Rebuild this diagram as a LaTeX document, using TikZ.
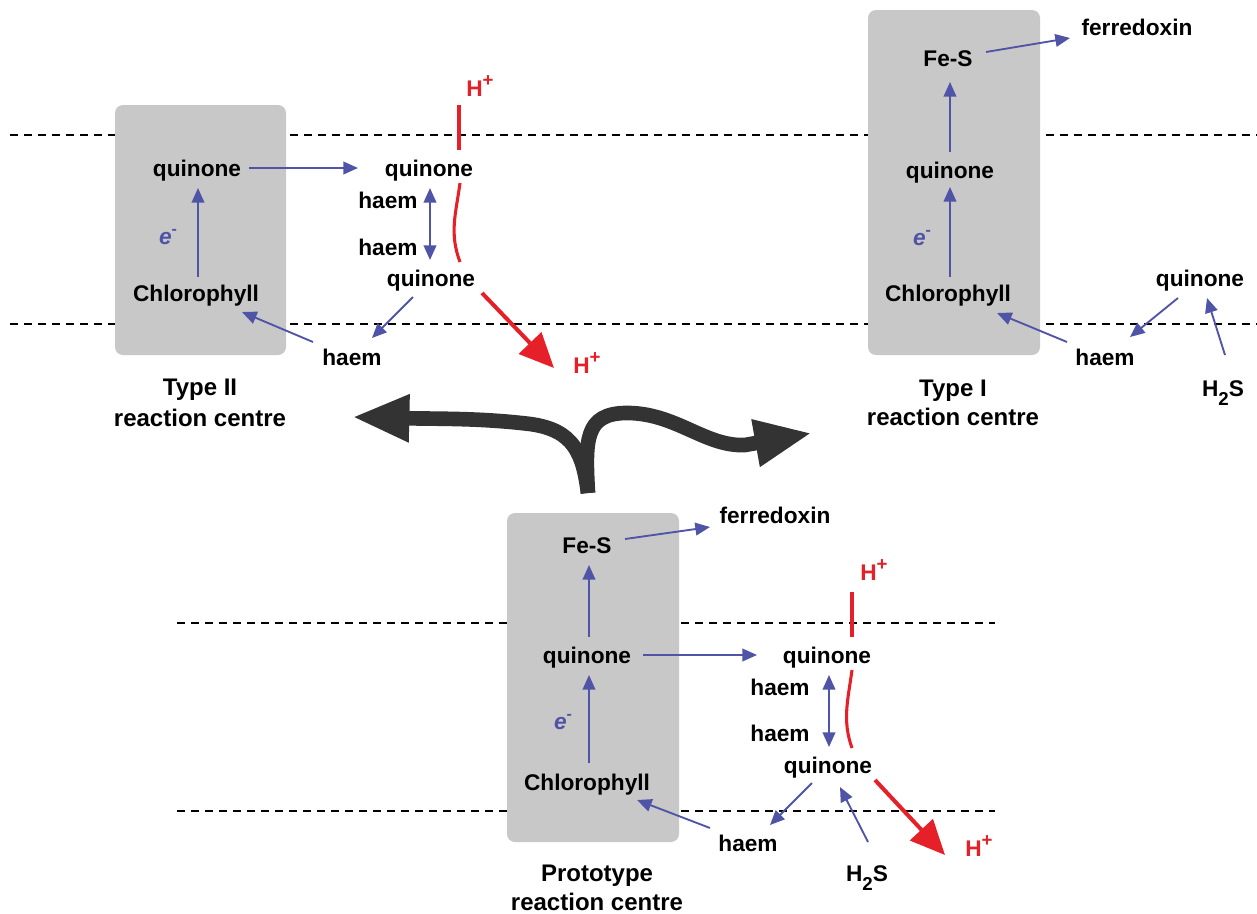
\documentclass[tikz,border=0pt]{standalone}
\usepackage{fontspec}
\setmainfont{Liberation Sans}
\usetikzlibrary{arrows.meta,calc}
\definecolor{eblue}{RGB}{80,84,166}
\definecolor{hred}{RGB}{230,32,40}
\definecolor{boxgray}{RGB}{200,200,200}
\definecolor{darkarrow}{RGB}{51,51,51}
\newcommand{\myHplus}{H\raisebox{0.42em}{\fontsize{14}{14}\selectfont\bfseries +}}
\newcommand{\myHtwoS}{H\raisebox{-0.4em}{\fontsize{14}{14}\selectfont\bfseries 2}S}
\newcommand{\myelec}{e\raisebox{0.45em}{\fontsize{12}{12}\selectfont\bfseries\upshape -}}
\begin{document}
\begin{tikzpicture}[x=0.75pt,y=-0.75pt,
  lbl/.style={font=\fontsize{17}{20}\selectfont\bfseries, inner sep=0pt, text height=12.4pt, text depth=0pt},
  rclabel/.style={font=\fontsize{18}{21}\selectfont\bfseries, inner sep=0pt, text height=13pt, text depth=0pt},
  hp/.style={lbl, text=hred},
  ee/.style={font=\fontsize{17}{20}\selectfont\bfseries\itshape, text=eblue, inner sep=0pt},
  rcbox/.style={fill=boxgray, rounded corners=6pt},
  membrane/.style={draw=black, line width=1.1pt, dash pattern=on 6pt off 4.5pt},
  barrow/.style={draw=eblue, line width=1.4pt, -{Triangle[length=11pt,width=9.5pt]}},
  bdarrow/.style={draw=eblue, line width=1.4pt, {Triangle[length=11pt,width=9.5pt]}-{Triangle[length=11pt,width=9.5pt]}},
  redline/.style={draw=hred, line width=2.3pt},
  redarrow/.style={draw=hred, line width=3pt, -{Triangle[length=26pt,width=23pt]}},
  bigarrow/.style={draw=darkarrow, line width=11pt, line join=round, -{Triangle[length=43pt,width=33pt]}}
]
\useasboundingbox (0,0) rectangle (1257,914);

% membranes
\draw[membrane] (10,135) -- (1257,135);
\draw[membrane] (10,324) -- (1257,324);
\draw[membrane] (177,623) -- (995,623);
\draw[membrane] (177,811) -- (995,811);

% reaction centre boxes
\fill[rcbox] (115,105) rectangle (286,355);
\fill[rcbox] (868,10) rectangle (1040,355);
\fill[rcbox] (507,513) rectangle (679,842);

% ---------- Type II ----------
\node[lbl] (a_q1) at (197,168) {quinone};
\node[lbl] (a_chl) at (196,293) {Chlorophyll};
\node[ee] (a_e) at (168,237) {\myelec};
\node[lbl] (a_q2) at (429,168) {quinone};
\node[lbl] (a_h1) at (388,200) {haem};
\node[lbl] (a_h2) at (388,247) {haem};
\node[lbl] (a_q3) at (431,278) {quinone};
\node[hp] (a_hp1) at (480,88) {\myHplus};
\node[hp] (a_hp2) at (587,365) {\myHplus};
\node[lbl] (a_h3) at (352,357) {haem};
\node[rclabel] (a_lab1) at (200,387) {Type II};
\node[rclabel] (a_lab2) at (200,418) {reaction centre};

\draw[barrow] ($(a_chl)+(2,-16)$) -- ($(a_q1)+(1,20)$);
\draw[barrow] ($(a_q1)+(52,0)$) -- ($(a_q2)+(-71,0)$);
\draw[bdarrow] ($(a_q2)+(1,20)$) -- ($(a_q3)+(-1,-18)$);
\draw[barrow] ($(a_q3)+(-18,19)$) -- ($(a_h3)+(20,-19)$);
\draw[barrow] ($(a_h3)+(-39,-15)$) -- ($(a_chl)+(46,19)$);
\draw[redline] ($(a_hp1)+(-21,17)$) -- ($(a_q2)+(30,-18)$);
\draw[redline] ($(a_q2)+(31,15)$) .. controls ($(a_q2)+(27,45)$) and ($(a_q3)+(18,-45)$) .. ($(a_q3)+(29,-16)$);
\draw[redarrow] ($(a_q3)+(51,15)$) -- ($(a_hp2)+(-33,3)$);

% ---------- Type I ----------
\node[lbl] (b_fes) at (948,58) {Fe-S};
\node[lbl] (b_fd) at (1137,27) {ferredoxin};
\node[lbl] (b_q) at (950,170) {quinone};
\node[ee] (b_e) at (922,238) {\myelec};
\node[lbl] (b_chl) at (948,293) {Chlorophyll};
\node[lbl] (b_h) at (1105,357) {haem};
\node[lbl] (b_q2) at (1200,278) {quinone};
\node[lbl] (b_h2s) at (1223,388) {\myHtwoS};
\node[rclabel] (b_lab1) at (953,388) {Type I};
\node[rclabel] (b_lab2) at (953,417) {reaction centre};

\draw[barrow] ($(b_fes)+(38,-6)$) -- ($(b_fd)+(-67,11)$);
\draw[barrow] ($(b_q)+(0,-18)$) -- ($(b_fes)+(2,24)$);
\draw[barrow] ($(b_chl)+(2,-16)$) -- ($(b_q)+(0,17)$);
\draw[barrow] ($(b_h)+(-38,-15)$) -- ($(b_chl)+(49,20)$);
\draw[barrow] ($(b_q2)+(-22,20)$) -- ($(b_h)+(25,-20)$);
\draw[barrow] ($(b_h2s)+(2,-33)$) -- ($(b_q2)+(7,20)$);

% ---------- big evolutionary arrow ----------
\coordinate (stem) at (588,493);
\draw[bigarrow] (stem) .. controls (583,455) and (575,430) .. (530,424)
   .. controls (480,418) and (440,419) .. (352,417);
\draw[bigarrow] (stem) .. controls (585,440) and (585,414) .. (625,413)
   .. controls (675,412) and (705,447) .. (745,445) -- (812,433);

% ---------- Prototype ----------
\node[lbl] (c_fd) at (775,515) {ferredoxin};
\node[lbl] (c_fes) at (587,545) {Fe-S};
\node[lbl] (c_q) at (587,655) {quinone};
\node[ee] (c_e) at (563,722) {\myelec};
\node[lbl] (c_chl) at (587,782) {Chlorophyll};
\node[lbl] (c_q2) at (827,655) {quinone};
\node[lbl] (c_h1) at (780,687) {haem};
\node[lbl] (c_h2) at (780,733) {haem};
\node[lbl] (c_q3) at (828,765) {quinone};
\node[hp] (c_hp1) at (874,572) {\myHplus};
\node[hp] (c_hp2) at (979,848) {\myHplus};
\node[lbl] (c_h) at (748,843) {haem};
\node[lbl] (c_h2s) at (867,873) {\myHtwoS};
\node[rclabel] (c_lab1) at (597,873) {Prototype};
\node[rclabel] (c_lab2) at (597,902) {reaction centre};

\draw[barrow] ($(c_fes)+(38,-6)$) -- ($(c_fd)+(-65,12)$);
\draw[barrow] ($(c_q)+(2,-18)$) -- ($(c_fes)+(2,20)$);
\draw[barrow] ($(c_chl)+(2,-19)$) -- ($(c_q)+(2,20)$);
\draw[barrow] ($(c_q)+(56,0)$) -- ($(c_q2)+(-70,0)$);
\draw[bdarrow] ($(c_q2)+(2,20)$) -- ($(c_q3)+(1,-18)$);
\draw[redline] ($(c_hp1)+(-22,20)$) -- ($(c_q2)+(25,-18)$);
\draw[redline] ($(c_q2)+(25,15)$) .. controls ($(c_q2)+(21,45)$) and ($(c_q3)+(14,-45)$) .. ($(c_q3)+(24,-17)$);
\draw[redarrow] ($(c_q3)+(47,15)$) -- ($(c_hp2)+(-34,7)$);
\draw[barrow] ($(c_q3)+(-16,18)$) -- ($(c_h)+(22,-18)$);
\draw[barrow] ($(c_h)+(-38,-15)$) -- ($(c_chl)+(50,18)$);
\draw[barrow] ($(c_h2s)+(1,-31)$) -- ($(c_q3)+(12,22)$);
\end{tikzpicture}
\end{document}
